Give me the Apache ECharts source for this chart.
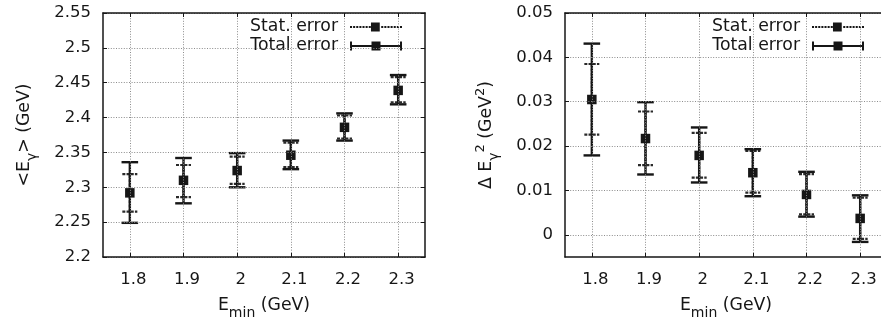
<!DOCTYPE html>
<html>
<head>
<meta charset="utf-8">
<script src="https://cdn.jsdelivr.net/npm/echarts@6/dist/echarts.min.js"></script>
<style>
html, body { margin: 0; padding: 0; background: #fff; }
#chart { width: 881px; height: 321px; }
</style>
</head>
<body>
<div id="chart"></div>
<script>
// Lower photon energy cut E_min (GeV)
const eminValues = [1.8, 1.9, 2.0, 2.1, 2.2, 2.3];
const eminTickLabels = ['1.8', '1.9', '2', '2.1', '2.2', '2.3'];

// Left panel: first moment <E_gamma> (GeV)
const meanValues    = [2.292, 2.310, 2.324, 2.346, 2.386, 2.439];
const meanStatLow   = [2.265, 2.286, 2.305, 2.329, 2.370, 2.422];
const meanStatHigh  = [2.319, 2.332, 2.344, 2.364, 2.403, 2.458];
const meanTotalLow  = [2.249, 2.277, 2.300, 2.326, 2.367, 2.419];
const meanTotalHigh = [2.336, 2.342, 2.349, 2.367, 2.406, 2.461];
const meanTicks = [2.2, 2.25, 2.3, 2.35, 2.4, 2.45, 2.5, 2.55];
const meanTickLabels = ['2.2', '2.25', '2.3', '2.35', '2.4', '2.45', '2.5', '2.55'];

// Right panel: second central moment Delta E_gamma^2 (GeV^2)
const varValues    = [0.0305, 0.0217, 0.0179, 0.0140, 0.0091, 0.0037];
const varStatLow   = [0.0226, 0.0157, 0.0129, 0.0095, 0.0046, -0.0009];
const varStatHigh  = [0.0385, 0.0278, 0.0230, 0.0189, 0.0137, 0.0084];
const varTotalLow  = [0.0179, 0.0136, 0.0118, 0.0087, 0.0041, -0.0016];
const varTotalHigh = [0.0431, 0.0299, 0.0242, 0.0193, 0.0142, 0.0089];
const varTicks = [0, 0.01, 0.02, 0.03, 0.04, 0.05];
const varTickLabels = ['0', '0.01', '0.02', '0.03', '0.04', '0.05'];

const FONT = 'DejaVu Sans';
const INK = '#161616';
const FS = 16.5;
const FS_TEXT = 17.3;

function rows(center, low, high) {
  return eminValues.map((x, i) => [x, center[i], low[i], high[i]]);
}

function statBars(params, api) {
  const x = api.value(0);
  const lo = api.coord([x, api.value(2)]);
  const hi = api.coord([x, api.value(3)]);
  const hw = 7.5;
  const st = { stroke: '#2a2a2a', lineWidth: 2.2, lineDash: [3, 1.2] };
  return {
    type: 'group',
    children: [
      { type: 'line', shape: { x1: lo[0], y1: lo[1], x2: hi[0], y2: hi[1] }, style: st },
      { type: 'line', shape: { x1: lo[0] - hw, y1: lo[1], x2: lo[0] + hw, y2: lo[1] }, style: st },
      { type: 'line', shape: { x1: hi[0] - hw, y1: hi[1], x2: hi[0] + hw, y2: hi[1] }, style: st }
    ]
  };
}

function totalBars(params, api) {
  const x = api.value(0);
  const c = api.coord([x, api.value(1)]);
  const lo = api.coord([x, api.value(2)]);
  const hi = api.coord([x, api.value(3)]);
  const hw = 8.3;
  const st = { stroke: INK, lineWidth: 2.4 };
  return {
    type: 'group',
    children: [
      { type: 'line', shape: { x1: lo[0], y1: lo[1], x2: hi[0], y2: hi[1] }, style: st },
      { type: 'line', shape: { x1: lo[0] - hw, y1: lo[1], x2: lo[0] + hw, y2: lo[1] }, style: st },
      { type: 'line', shape: { x1: hi[0] - hw, y1: hi[1], x2: hi[0] + hw, y2: hi[1] }, style: st },
      { type: 'rect', shape: { x: c[0] - 4.75, y: c[1] - 4.75, width: 9.5, height: 9.5 }, style: { fill: INK } }
    ]
  };
}

// Legend glyphs: dotted bar with marker, and capped solid bar with marker
let statIcon = 'path://';
for (let x = 0; x < 52; x += 3.2) {
  if (x > 19.5 && x < 31) continue;
  statIcon += 'M' + x + ',3.5h2.1v2h-2.1z';
}
statIcon += 'M21.5,0h9v9h-9z';
const totalIcon = 'path://M0,0h2v3.5h48v-3.5h2v9h-2v-3.5h-48v3.5h-2zM21.5,0h9v9h-9z';

const richStyles = {
  base: { fontFamily: FONT, fontSize: FS_TEXT, color: INK },
  sub: { fontFamily: FONT, fontSize: 14, color: INK, padding: [14, 0, 0, 0] },
  sup: { fontFamily: FONT, fontSize: 13, color: INK, padding: [0, 0, 12, 0] }
};

function xAxes(gridIndex) {
  return [
    {
      type: 'value', gridIndex, position: 'bottom', min: 1.75, max: 2.35,
      axisLine: { show: true, onZero: false, lineStyle: { color: INK, width: 1.5 } },
      axisTick: { show: true, inside: true, length: 4, customValues: eminValues, lineStyle: { color: INK, width: 1 } },
      axisLabel: {
        customValues: eminValues, margin: 14, padding: [0, 0, 0, 7],
        fontFamily: FONT, fontSize: FS, color: INK,
        formatter: (v) => eminTickLabels[eminValues.findIndex(e => Math.abs(e - v) < 1e-9)]
      },
      splitLine: { show: true, lineStyle: { color: '#8c8c8c', width: 1, type: [1, 1.6] } },
      name: '{base|E}{sub|min}{base| (GeV)}', nameLocation: 'middle', nameGap: 35,
      nameTextStyle: { rich: richStyles }, z: 10
    },
    {
      type: 'value', gridIndex, position: 'top', min: 1.75, max: 2.35,
      axisLine: { show: true, onZero: false, lineStyle: { color: INK, width: 1.5 } },
      axisTick: { show: true, inside: true, length: 4, customValues: eminValues, lineStyle: { color: INK, width: 1 } },
      axisLabel: { show: false }, splitLine: { show: false }, z: 10
    }
  ];
}

function yAxes(gridIndex, min, max, ticks, labels, name, gap) {
  return [
    {
      type: 'value', gridIndex, position: 'left', min, max,
      axisLine: { show: true, onZero: false, lineStyle: { color: INK, width: 1.5 } },
      axisTick: { show: true, inside: true, length: 4, customValues: ticks, lineStyle: { color: INK, width: 1 } },
      axisLabel: {
        customValues: ticks, margin: 12,
        fontFamily: FONT, fontSize: FS, color: INK,
        formatter: (v) => labels[ticks.findIndex(t => Math.abs(t - v) < 1e-9)]
      },
      splitLine: { show: true, lineStyle: { color: '#8c8c8c', width: 1, type: [1, 1.6] } },
      name, nameLocation: 'middle', nameGap: gap, nameRotate: 90,
      nameTextStyle: { rich: richStyles }, z: 10
    },
    {
      type: 'value', gridIndex, position: 'right', min, max,
      axisLine: { show: true, onZero: false, lineStyle: { color: INK, width: 1.5 } },
      axisTick: { show: true, inside: true, length: 4, customValues: ticks, lineStyle: { color: INK, width: 1 } },
      axisLabel: { show: false }, splitLine: { show: false }, z: 10
    }
  ];
}

function legendAt(right) {
  return {
    orient: 'vertical', align: 'right', right, top: 14.5,
    padding: [3, 11, 2, 37], itemGap: 0,
    itemWidth: 52, itemHeight: 9,
    backgroundColor: '#ffffff', borderWidth: 0,
    selectedMode: false,
    textStyle: { fontFamily: FONT, fontSize: FS_TEXT, color: INK, lineHeight: 19, padding: [0, 7, 0, 0] },
    data: [
      { name: 'Stat. error', icon: statIcon },
      { name: 'Total error', icon: totalIcon }
    ],
    z: 5
  };
}

const chart = echarts.init(document.getElementById('chart'), null, { renderer: 'canvas' });
chart.setOption({
  animation: false,
  backgroundColor: '#ffffff',
  textStyle: { fontFamily: FONT },
  grid: [
    { left: 103, top: 13, width: 322, height: 244, outerBoundsMode: 'none' },
    { left: 565, top: 13, width: 322, height: 244, outerBoundsMode: 'none' }
  ],
  legend: [legendAt(468), legendAt(6)],
  xAxis: [...xAxes(0), ...xAxes(1)],
  yAxis: [
    ...yAxes(0, 2.2, 2.55, meanTicks, meanTickLabels,
      '{base|<E}{sub|\u03b3}{base|> (GeV)}', 64),
    ...yAxes(1, -0.005, 0.05, varTicks, varTickLabels,
      '{base|\u0394 E}{sub|\u03b3}{sup|2}{base| (GeV}{sup|2}{base|)}', 64)
  ],
  series: [
    {
      name: 'Stat. error', type: 'custom', xAxisIndex: 0, yAxisIndex: 0,
      itemStyle: { color: INK }, renderItem: statBars,
      encode: { x: 0, y: [1, 2, 3] }, data: rows(meanValues, meanStatLow, meanStatHigh), z: 3
    },
    {
      name: 'Total error', type: 'custom', xAxisIndex: 0, yAxisIndex: 0,
      itemStyle: { color: INK }, renderItem: totalBars,
      encode: { x: 0, y: [1, 2, 3] }, data: rows(meanValues, meanTotalLow, meanTotalHigh), z: 4
    },
    {
      name: 'Stat. error', type: 'custom', xAxisIndex: 2, yAxisIndex: 2,
      itemStyle: { color: INK }, renderItem: statBars,
      encode: { x: 0, y: [1, 2, 3] }, data: rows(varValues, varStatLow, varStatHigh), z: 3
    },
    {
      name: 'Total error', type: 'custom', xAxisIndex: 2, yAxisIndex: 2,
      itemStyle: { color: INK }, renderItem: totalBars,
      encode: { x: 0, y: [1, 2, 3] }, data: rows(varValues, varTotalLow, varTotalHigh), z: 4
    }
  ]
});
</script>
</body>
</html>
